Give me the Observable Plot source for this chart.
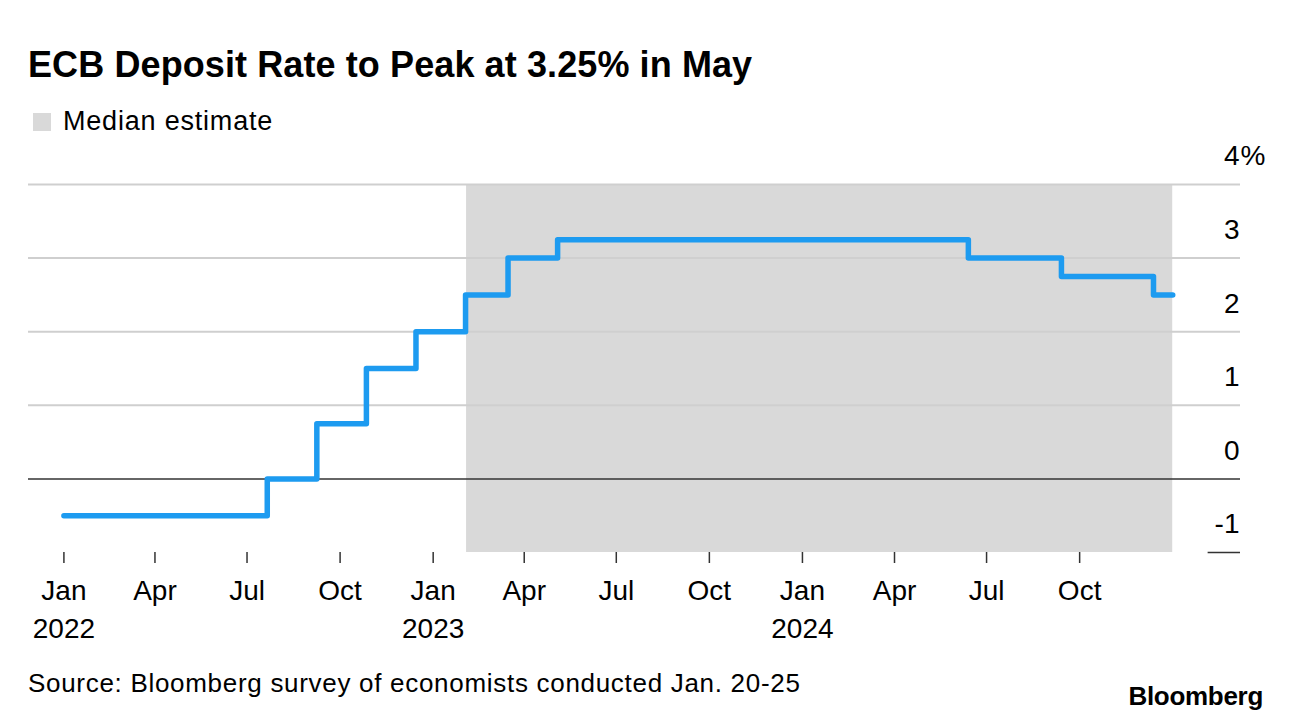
<!DOCTYPE html>
<html>
<head>
<meta charset="utf-8">
<script src="https://cdn.jsdelivr.net/npm/d3@7"></script>
<script src="https://cdn.jsdelivr.net/npm/@observablehq/plot@0.6"></script>
<style>
  html, body { margin: 0; padding: 0; background: #fff; }
  body { width: 1292px; height: 722px; position: relative; overflow: hidden;
         font-family: "Liberation Sans", Arial, Helvetica, sans-serif; color: #000; }
  .title { position: absolute; left: 28px; top: 47px; font-size: 36px; line-height: 36px; font-weight: bold; letter-spacing: 0.1px; }
  .legend { position: absolute; left: 33px; top: 108px; font-size: 27px; line-height: 27px; letter-spacing: 0.8px; }
  .legend .sw { position: absolute; left: 0; top: 5px; width: 18px; height: 18px; background: #d9d9d9; }
  .legend .lbl { position: absolute; left: 30px; top: 0; white-space: nowrap; }
  #chart { position: absolute; left: 0; top: 145px; }
  .source { position: absolute; left: 28px; top: 670px; font-size: 26px; line-height: 26px; letter-spacing: 0.7px; white-space: nowrap; }
  .logo { position: absolute; right: 29px; top: 683px; font-size: 26px; line-height: 26px; font-weight: bold; letter-spacing: -0.3px; }
</style>
</head>
<body>
<div class="title">ECB Deposit Rate to Peak at 3.25% in May</div>
<div class="legend"><div class="sw"></div><div class="lbl">Median estimate</div></div>
<div id="chart"></div>
<div class="source">Source: Bloomberg survey of economists conducted Jan. 20-25</div>
<div class="logo">Bloomberg</div>
<script>
// Deposit rate path (step changes), % — actual + median estimate
const rateDates = ["2022-01-01","2022-07-21","2022-09-08","2022-10-27","2022-12-15","2023-02-02","2023-03-16","2023-05-04","2024-06-13","2024-09-13","2024-12-13","2025-01-01"];
const rateValues = [-0.5, 0, 0.75, 1.5, 2.0, 2.5, 3.0, 3.25, 3.0, 2.75, 2.5, 2.5];

// Median-estimate shaded period
const estimateStart = "2023-02-03";
const estimateEnd = "2025-01-01";

// Axis ticks
const xTickDates = ["2022-01-01","2022-04-01","2022-07-01","2022-10-01","2023-01-01","2023-04-01","2023-07-01","2023-10-01","2024-01-01","2024-04-01","2024-07-01","2024-10-01"];
const xTickLabels = ["Jan\n2022","Apr","Jul","Oct","Jan\n2023","Apr","Jul","Oct","Jan\n2024","Apr","Jul","Oct"];
const yTicks = [-1, 0, 1, 2, 3, 4];
const yTickLabels = ["-1", "0", "1", "2", "3", "4"];
const yGrid = [1, 2, 3, 4];

// Domain
const xDomainStart = "2021-11-27";
const xDomainEnd = "2025-03-09";
const bottomRuleStart = "2025-02-05";

const D = s => new Date(s + "T00:00:00Z");
const rate = rateDates.map((d, i) => ({date: D(d), value: rateValues[i]}));
const shade = [{x1: D(estimateStart), x2: D(estimateEnd), y1: -1, y2: 4}];
const xTicks = xTickDates.map(D);
const xLabelMap = new Map(xTickDates.map((d, i) => [+D(d), xTickLabels[i]]));
const yLabelMap = new Map(yTicks.map((v, i) => [v, yTickLabels[i]]));

const chart = Plot.plot({
  width: 1292,
  height: 510,
  marginLeft: 28,
  marginRight: 52,
  marginTop: 39,
  marginBottom: 103,
  style: {fontFamily: "'Liberation Sans', Arial, Helvetica, sans-serif", fontSize: "28px", background: "#fff", overflow: "visible", color: "#000"},
  x: {type: "utc", domain: [D(xDomainStart), D(xDomainEnd)], axis: null},
  y: {domain: [-1, 4], axis: null},
  marks: [
    Plot.rectY(shade, {x1: "x1", x2: "x2", y1: "y1", y2: "y2", fill: "#d9d9d9"}),
    Plot.ruleY(yGrid, {stroke: "#cfcfcf", strokeWidth: 2}),
    Plot.ruleY([0], {stroke: "#333", strokeWidth: 1.5}),
    Plot.ruleY([-1], {x1: D(bottomRuleStart), x2: D(xDomainEnd), stroke: "#333", strokeWidth: 1.5}),
    Plot.line(rate, {x: "date", y: "value", curve: "step-after", stroke: "#1d9bf0", strokeWidth: 5.5, strokeLinecap: "round", strokeLinejoin: "round"}),
    Plot.axisX({
      ticks: xTicks,
      tickFormat: d => xLabelMap.get(+d) ?? "",
      tickSize: 11, tickPadding: 10, fontSize: 28, lineHeight: 1.35,
      stroke: "#333", strokeWidth: 1.5, fill: "#000"
    }),
    Plot.axisY({
      anchor: "right", ticks: yTicks,
      tickFormat: v => yLabelMap.get(v),
      tickSize: 0, tickPadding: 0, textAnchor: "end", dx: -1, dy: -28,
      fontSize: 28, fill: "#000"
    }),
    Plot.text([4], {y: d => d, text: () => "%", frameAnchor: "right", textAnchor: "start", dx: 0, dy: -28, fontSize: 28, fill: "#000"})
  ]
});
document.getElementById("chart").appendChild(chart);
</script>
</body>
</html>
